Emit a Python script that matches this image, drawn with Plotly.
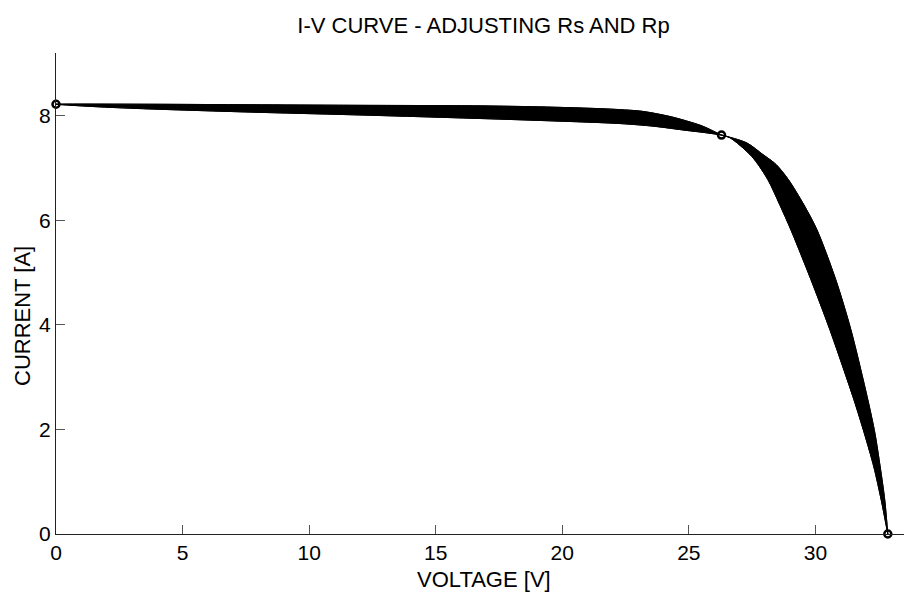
import plotly.graph_objects as go

# Curve A: largest Rp (flattest before MPP, sags most after MPP)
V_A = [0, 3.7, 7.7, 11.6, 16.5, 19.1, 21.76, 23.06, 23.6, 24.3, 24.91, 25.55, 26.29,
       26.62, 27.49, 28.12, 28.59, 29.03, 29.82, 30.57, 31.52, 31.93, 32.31, 32.60, 32.86]
I_A = [8.22, 8.22, 8.21, 8.20, 8.19, 8.17, 8.13, 8.09, 8.05, 7.98, 7.90, 7.80, 7.63,
       7.58, 7.22, 6.78, 6.30, 5.82, 4.87, 3.91, 2.57, 1.93, 1.28, 0.65, 0.0]

# Curve B: smallest Rp (steepest before MPP, outermost after MPP)
V_B = [0, 1.7, 3.7, 7.66, 11.6, 15.2, 19.1, 22.3, 23.6, 24.9, 25.6, 26.29,
       27.29, 27.92, 28.44, 28.93, 29.54, 30.06, 30.80, 31.40, 32.07, 32.35, 32.56, 32.74, 32.86]
I_B = [8.22, 8.17, 8.13, 8.07, 8.02, 7.97, 7.91, 7.85, 7.80, 7.72, 7.68, 7.63,
       7.48, 7.26, 7.07, 6.78, 6.30, 5.82, 4.87, 3.91, 2.57, 1.93, 1.28, 0.65, 0.0]

# Remarkable points: Isc, MPP, Voc
V_PTS = [0.0, 26.29, 32.86]
I_PTS = [8.22, 7.63, 0.0]

X_TICKS = [0, 5, 10, 15, 20, 25, 30]
Y_TICKS = [0, 2, 4, 6, 8]

FONT = "Liberation Sans, Arial, sans-serif"

fig = go.Figure()

# Band of all curves between the two extreme curves (two lobes meeting at the MPP)
k = V_A.index(26.29)
m = V_B.index(26.29)
left_x = V_A[:k + 1] + V_B[:m + 1][::-1]
left_y = I_A[:k + 1] + I_B[:m + 1][::-1]
right_x = V_A[k:] + V_B[m:][::-1]
right_y = I_A[k:] + I_B[m:][::-1]
for bx, by in ((left_x, left_y), (right_x, right_y)):
    fig.add_trace(go.Scatter(
        x=bx, y=by, mode="lines", fill="toself", fillcolor="black",
        line=dict(color="black", width=1, shape="spline", smoothing=0.8),
        hoverinfo="skip", showlegend=False))
for cx, cy in ((V_A, I_A), (V_B, I_B)):
    fig.add_trace(go.Scatter(x=cx, y=cy, mode="lines",
                             line=dict(color="black", width=1, shape="spline", smoothing=0.8),
                             showlegend=False))
fig.add_trace(go.Scatter(
    x=V_PTS, y=I_PTS, mode="markers",
    marker=dict(symbol="circle-open", size=7, color="black", line=dict(width=2.5)),
    showlegend=False, cliponaxis=False))

axis_common = dict(
    showgrid=False, zeroline=False, showline=True, linecolor="#222", linewidth=1,
    ticks="inside", ticklen=9, tickcolor="#555", tickwidth=1,
    tickfont=dict(family=FONT, size=21, color="black"), mirror=False,
)

fig.update_layout(
    width=904, height=594,
    margin=dict(l=56, r=0, t=53, b=60),
    paper_bgcolor="white", plot_bgcolor="white",
    xaxis=dict(range=[0, 33.5], tickvals=X_TICKS, **axis_common),
    yaxis=dict(range=[0, 9.2], tickvals=Y_TICKS, **axis_common),
    title=dict(text="I-V CURVE - ADJUSTING Rs AND Rp", x=483.5 / 904, xanchor="center",
               y=1 - 25 / 594, yanchor="middle", yref="container",
               font=dict(family=FONT, size=22, color="black")),
    annotations=[
        dict(text="VOLTAGE [V]", xref="paper", yref="paper",
             x=(484 - 56) / 848, y=(534 - 579) / 481, xanchor="center", yanchor="middle",
             showarrow=False, font=dict(family=FONT, size=22, color="black")),
        dict(text="CURRENT [A]", xref="paper", yref="paper",
             x=(22 - 56) / 848, y=(534 - 316) / 481, xanchor="center", yanchor="middle",
             textangle=-90, showarrow=False, font=dict(family=FONT, size=22, color="black")),
    ],
)

fig.write_html("out.html", config={"displayModeBar": False},
               post_script="document.body.style.margin='0px';")
